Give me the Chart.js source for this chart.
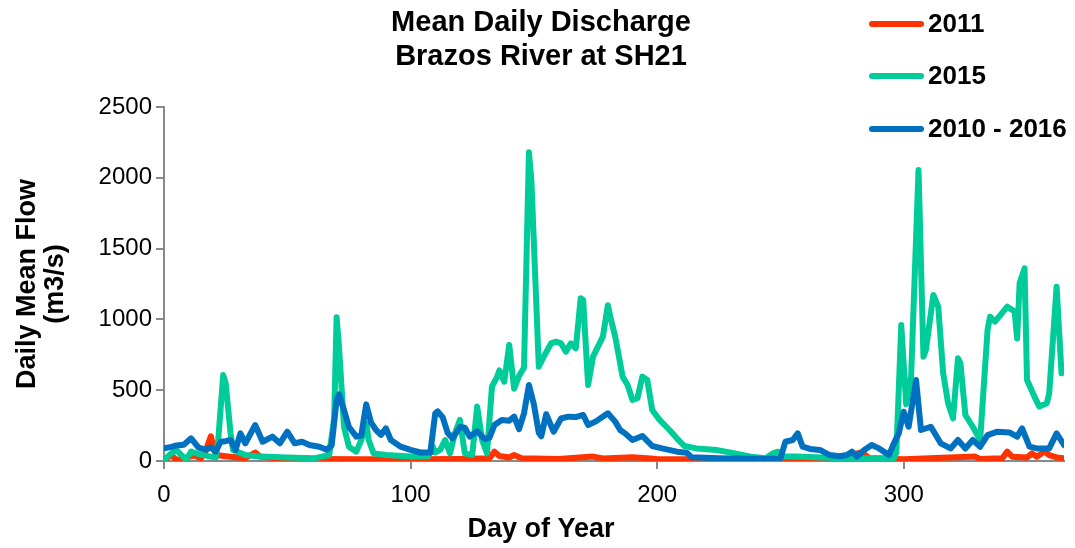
<!DOCTYPE html>
<html>
<head>
<meta charset="utf-8">
<title>Mean Daily Discharge</title>
<script src="https://cdn.jsdelivr.net/npm/chart.js@4.4.0/dist/chart.umd.min.js"></script>
<style>
  body { margin: 0; background: #fff; }
  #graphCanvas { display: block; }
</style>
</head>
<body>
<canvas id="graphCanvas" width="1075" height="548"></canvas>
<script>
// Daily mean flow (m3/s) by day of year
const titleLines = ['Mean Daily Discharge', 'Brazos River at SH21'];
const seriesNames = ['2011', '2015', '2010 - 2016'];
const seriesColors = ['#FF3300', '#00CC99', '#0070C0'];
const xTicks = [0, 100, 200, 300];
const yTicks = [0, 500, 1000, 1500, 2000, 2500];

const days2011 = [0, 3, 5, 8, 12, 15, 17, 19, 20, 21, 25, 29, 33, 37, 39, 45, 60, 80, 100, 120,
    132, 134, 136, 140, 142, 145, 160, 174, 178, 190, 200, 220, 250, 270, 283, 286, 300, 329, 331, 340,
    342, 344, 350, 352, 354, 357, 359, 362, 365];
const flow2011 = [7, 42, 8, 15, 40, 19, 78, 175, 101, 42, 34, 26, 20, 60, 31, 20, 15, 12, 12, 15,
    20, 66, 35, 25, 42, 20, 15, 31, 18, 26, 15, 12, 10, 12, 60, 20, 12, 31, 15, 20,
    66, 30, 25, 54, 30, 66, 42, 25, 19];

const days2015 = [0, 3, 5, 7, 9, 11, 13, 16, 19, 21, 22, 24, 25, 27, 28, 33, 39, 50, 61, 67,
    69, 70, 71, 73, 75, 78, 80, 82, 83, 85, 90, 100, 107, 109, 110, 112, 114, 116, 118, 120,
    122, 125, 127, 129, 131, 133, 135, 136, 138, 140, 142, 144, 146, 148, 149, 152, 154, 157, 159, 161,
    163, 165, 167, 169, 170, 172, 174, 178, 180, 181, 183, 186, 188, 190, 192, 194, 196, 198, 201, 205,
    208, 211, 216, 224, 230, 238, 244, 247, 249, 251, 256, 275, 296, 297, 299, 301, 303, 306, 308, 309,
    312, 314, 316, 318, 320, 322, 323, 325, 328, 331, 334, 335, 337, 342, 345, 346, 347, 349, 350, 353,
    355, 358, 359, 362, 364];
const flow2015 = [7, 54, 78, 42, 10, 66, 54, 42, 31, 25, 148, 607, 550, 195, 78, 42, 31, 25, 19, 42,
    300, 1015, 800, 242, 101, 66, 148, 266, 148, 54, 42, 31, 31, 101, 60, 78, 148, 54, 195, 290,
    54, 42, 384, 148, 54, 525, 590, 640, 560, 820, 510, 600, 660, 2180, 1980, 666, 737, 831, 843, 831,
    772, 831, 796, 1149, 1137, 537, 737, 878, 1100, 1019, 878, 596, 537, 431, 443, 596, 572, 360, 290, 219,
    160, 106, 89, 78, 59, 31, 19, 54, 66, 31, 31, 19, 19, 60, 960, 400, 600, 2055, 737, 784,
    1172, 1090, 619, 407, 301, 725, 690, 325, 242, 148, 925, 1019, 984, 1090, 1055, 866, 1255, 1360, 572, 455,
    384, 407, 478, 1231, 619];

const daysAll = [0, 3, 5, 8, 11, 14, 17, 19, 21, 23, 25, 27, 29, 31, 33, 37, 40, 44, 47, 50,
    53, 56, 59, 63, 66, 68, 70, 71, 73, 75, 78, 80, 82, 84, 86, 88, 90, 92, 96, 100,
    104, 108, 110, 111, 113, 115, 117, 120, 122, 124, 127, 130, 132, 134, 137, 140, 142, 144, 146, 148,
    150, 152, 153, 155, 158, 161, 164, 167, 170, 172, 175, 180, 183, 185, 187, 190, 194, 198, 202, 208,
    212, 214, 225, 244, 250, 252, 255, 257, 259, 262, 266, 270, 274, 277, 279, 281, 284, 287, 290, 294,
    296, 298, 300, 302, 305, 307, 311, 315, 319, 322, 325, 328, 331, 334, 338, 343, 346, 348, 351, 354,
    359, 362, 365];
const flowAll = [90, 100, 110, 115, 160, 95, 80, 95, 68, 136, 140, 148, 78, 195, 125, 254, 136, 172, 125, 207,
    125, 136, 113, 101, 80, 110, 430, 470, 360, 240, 172, 180, 400, 270, 219, 185, 230, 148, 101, 78,
    60, 60, 337, 350, 310, 200, 160, 240, 235, 172, 210, 155, 165, 254, 290, 285, 313, 225, 337, 537,
    400, 200, 175, 330, 207, 300, 313, 310, 325, 254, 278, 337, 278, 219, 195, 148, 177, 106, 89, 66,
    59, 26, 19, 14, 19, 136, 148, 195, 101, 85, 78, 42, 34, 42, 66, 31, 78, 113, 89, 42,
    125, 195, 348, 242, 572, 219, 242, 125, 89, 148, 89, 148, 101, 183, 207, 201, 172, 231, 101, 89,
    89, 195, 113];

const FONT = '"Liberation Sans", Arial, sans-serif';
const AXIS_GREY = '#898989';

function toPoints(days, flows) {
    return days.map((d, i) => ({ x: d, y: flows[i] }));
}

// Title, legend and x axis title drawn on top of the plot
const chartText = {
    id: 'chartText',
    afterDraw(c) {
        const ctx = c.ctx;
        ctx.save();
        ctx.fillStyle = '#000';
        ctx.textBaseline = 'middle';
        ctx.textAlign = 'center';
        ctx.font = 'bold 29px ' + FONT;
        ctx.fillText(titleLines[0], 541, 23);
        ctx.fillText(titleLines[1], 541, 57);

        ctx.font = 'bold 27px ' + FONT;
        ctx.fillText('Day of Year', 541, 530);

        // legend, one row per series
        const rowY = [24, 76, 129];
        ctx.font = 'bold 26px ' + FONT;
        ctx.textAlign = 'left';
        ctx.lineCap = 'round';
        ctx.lineWidth = 6;
        c.data.datasets.forEach((ds, i) => {
            ctx.strokeStyle = ds.borderColor;
            ctx.beginPath();
            ctx.moveTo(872, rowY[i]);
            ctx.lineTo(921, rowY[i]);
            ctx.stroke();
            ctx.fillText(ds.label, 928, rowY[i] + 1);
        });
        ctx.restore();
    }
};

Chart.defaults.font.family = FONT;

const seriesData = [toPoints(days2011, flow2011), toPoints(days2015, flow2015), toPoints(daysAll, flowAll)];

const ctx = document.getElementById('graphCanvas').getContext('2d');
const chart = new Chart(ctx, {
    type: 'line',
    data: {
        datasets: seriesData.map((pts, i) => ({
            label: seriesNames[i],
            data: pts,
            borderColor: seriesColors[i],
            backgroundColor: seriesColors[i],
            borderWidth: 6,
            pointRadius: 0,
            tension: 0,
            fill: false,
            borderJoinStyle: 'round',
            borderCapStyle: 'round',
            order: 3 - i, // blue on top, red underneath
        })),
    },
    options: {
        responsive: false,
        animation: false,
        layout: { padding: { top: 107, right: 11, left: 0, bottom: 0 } },
        plugins: {
            legend: { display: false },
            title: { display: false },
            tooltip: { enabled: false },
        },
        scales: {
            x: {
                type: 'linear',
                min: 0,
                max: 365,
                afterBuildTicks: s => { s.ticks = xTicks.map(v => ({ value: v })); },
                afterFit: s => { s.height = 87; },
                ticks: {
                    color: '#000',
                    font: { size: 24 },
                    padding: 12,
                    maxRotation: 0,
                    callback: v => String(v),
                },
                grid: {
                    drawOnChartArea: false,
                    drawTicks: true,
                    tickLength: 8,
                    color: AXIS_GREY,
                    lineWidth: 2,
                },
                border: { color: AXIS_GREY, width: 2 },
            },
            y: {
                min: 0,
                max: 2500,
                afterBuildTicks: s => { s.ticks = yTicks.map(v => ({ value: v })); },
                afterFit: s => { s.width = 164; },
                ticks: {
                    color: '#000',
                    font: { size: 24 },
                    padding: 4,
                    callback: v => String(v), // no thousands separator
                },
                grid: {
                    drawOnChartArea: false,
                    drawTicks: true,
                    tickLength: 8,
                    color: AXIS_GREY,
                    lineWidth: 2,
                },
                border: { color: AXIS_GREY, width: 2 },
                title: {
                    display: true,
                    text: ['Daily Mean Flow', '(m3/s)'],
                    color: '#000',
                    font: { size: 27, weight: 'bold', lineHeight: 1.05 },
                    padding: { top: 13, bottom: 0 },
                },
            },
        },
    },
    plugins: [chartText],
});
</script>
</body>
</html>
